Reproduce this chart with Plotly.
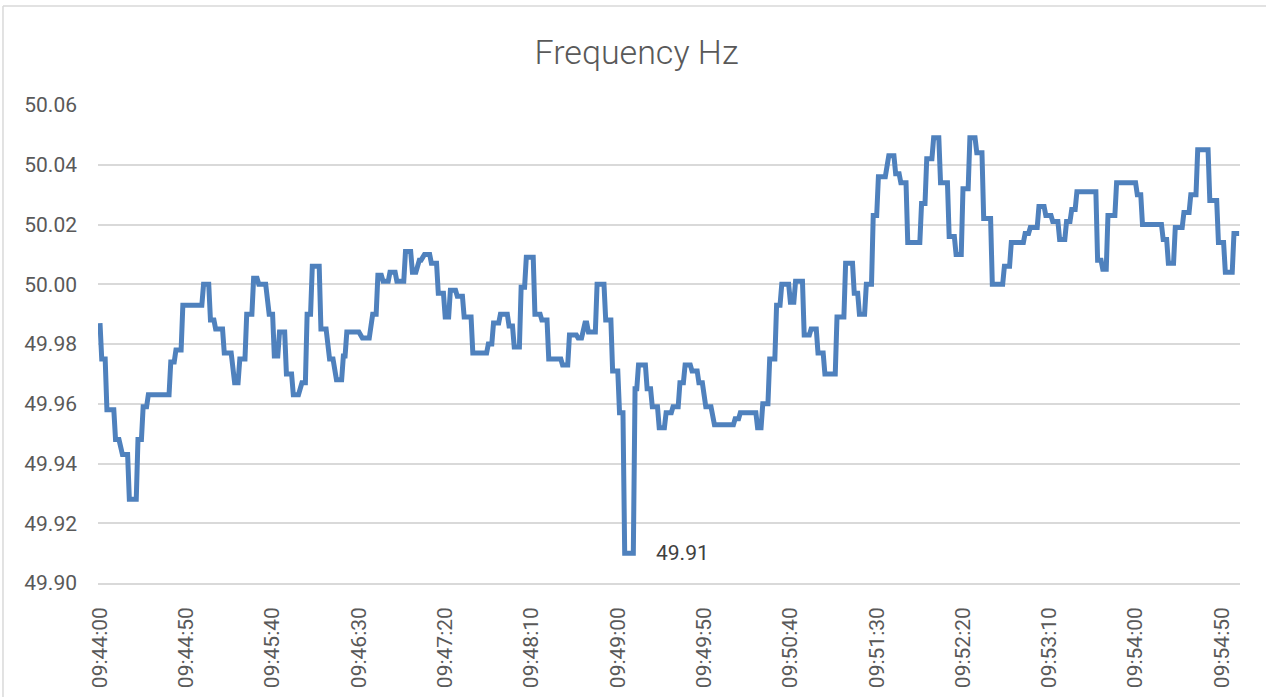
import pandas as pd
import plotly.graph_objects as go

# ---- data: plateaus of the frequency trace (seconds after 09:44:00, value in Hz)
seg_start = [0, 1, 4, 9, 13, 17, 22, 25, 28, 41, 44, 48, 60, 64, 67, 72, 78, 81, 85, 89,
             92, 98, 101, 104, 108, 112, 117, 120, 123, 128, 133, 137, 141, 143, 152, 158, 161, 164, 168, 172,
             177, 181, 185, 188, 192, 196, 200, 203, 207, 211, 216, 225, 228, 232, 237, 240, 244, 247, 252, 256,
             260, 268, 272, 277, 281, 283, 288, 293, 297, 301, 304, 310, 312, 317, 320, 324, 328, 332, 336, 339,
             343, 347, 351, 356, 368, 371, 381, 384, 388, 392, 395, 400, 403, 408, 412, 416, 420, 427, 432, 437,
             440, 444, 448, 451, 457, 461, 464, 468, 476, 479, 483, 487, 492, 496, 500, 504, 508, 512, 517, 524,
             528, 536, 539, 544, 548, 552, 556, 560, 563, 566, 578, 581, 584, 589, 601, 604, 616, 619, 623, 628,
             632, 636, 643, 648, 652, 657]
seg_end = [0, 3, 8, 11, 16, 21, 24, 27, 40, 43, 47, 59, 63, 66, 71, 76, 80, 84, 88, 91,
           96, 100, 103, 107, 111, 115, 119, 122, 127, 131, 135, 140, 142, 150, 156, 160, 163, 167, 171, 176,
           180, 183, 186, 191, 195, 199, 202, 206, 210, 215, 224, 227, 231, 236, 239, 243, 246, 251, 255, 259,
           267, 271, 276, 279, 282, 287, 292, 296, 300, 303, 309, 311, 316, 319, 323, 327, 331, 335, 338, 342,
           346, 349, 354, 367, 370, 380, 383, 387, 391, 394, 399, 402, 407, 411, 415, 419, 426, 431, 436, 439,
           443, 447, 450, 455, 460, 463, 467, 475, 478, 482, 486, 491, 495, 499, 503, 507, 511, 516, 523, 527,
           535, 538, 543, 547, 551, 555, 559, 562, 565, 577, 580, 583, 588, 600, 603, 615, 618, 622, 627, 631,
           635, 642, 647, 651, 656, 660]
seg_hz = [49.987, 49.975, 49.958, 49.948, 49.943, 49.928, 49.948, 49.959, 49.963, 49.974,
          49.978, 49.993, 50.000, 49.988, 49.985, 49.977, 49.967, 49.975, 49.990, 50.002,
          50.000, 49.990, 49.976, 49.984, 49.970, 49.963, 49.967, 49.990, 50.006, 49.985,
          49.975, 49.968, 49.976, 49.984, 49.982, 49.990, 50.003, 50.001, 50.004, 50.001,
          50.011, 50.004, 50.008, 50.010, 50.007, 49.997, 49.989, 49.998, 49.996, 49.989,
          49.977, 49.980, 49.987, 49.990, 49.986, 49.979, 49.999, 50.009, 49.990, 49.988,
          49.975, 49.973, 49.983, 49.982, 49.987, 49.984, 50.000, 49.988, 49.971, 49.957,
          49.910, 49.965, 49.973, 49.965, 49.959, 49.952, 49.957, 49.959, 49.967, 49.973,
          49.971, 49.967, 49.959, 49.953, 49.955, 49.957, 49.952, 49.960, 49.975, 49.993,
          50.000, 49.994, 50.001, 49.983, 49.985, 49.977, 49.970, 49.989, 50.007, 49.997,
          49.990, 50.000, 50.023, 50.036, 50.043, 50.037, 50.034, 50.014, 50.027, 50.042,
          50.049, 50.034, 50.016, 50.010, 50.032, 50.049, 50.044, 50.022, 50.000, 50.006,
          50.014, 50.017, 50.019, 50.026, 50.023, 50.021, 50.015, 50.021, 50.025, 50.031,
          50.008, 50.005, 50.023, 50.034, 50.030, 50.020, 50.015, 50.007, 50.019, 50.024,
          50.030, 50.045, 50.028, 50.014, 50.004, 50.017]

start_time = "2024-01-01 09:44:00"
title_text = "Frequency Hz"
label_text = "49.91"

# ---- build polyline vertices from the plateaus
t0 = pd.Timestamp(start_time)
xs, ys = [], []
for s, e, v in zip(seg_start, seg_end, seg_hz):
    xs.append(t0 + pd.Timedelta(seconds=s))
    ys.append(v)
    if e != s:
        xs.append(t0 + pd.Timedelta(seconds=e))
        ys.append(v)

i_min = seg_hz.index(min(seg_hz))
x_min = t0 + pd.Timedelta(seconds=seg_end[i_min])

FONT = "Roboto"
fig = go.Figure()
fig.add_trace(go.Scatter(
    x=xs, y=ys, mode="lines",
    line=dict(color="#4F81BD", width=5),
    hoverinfo="skip", showlegend=False,
))

fig.add_annotation(
    x=x_min, y=seg_hz[i_min], text=label_text, showarrow=False,
    xanchor="left", yanchor="middle", xshift=21,
    font=dict(family=FONT, size=21, color="#404040"),
)

# chart-area border (top and left edges visible in reference)
fig.add_shape(type="line", xref="paper", yref="paper",
              x0=-0.0832, x1=1.05, y0=1.2071, y1=1.2071,
              line=dict(color="#d9d9d9", width=1.5))
fig.add_shape(type="line", xref="paper", yref="paper",
              x0=-0.0832, x1=-0.0832, y0=1.2071, y1=-0.3,
              line=dict(color="#d9d9d9", width=1.5))

fig.update_layout(
    width=1266, height=697,
    margin=dict(l=98, r=26, t=105, b=114, autoexpand=False),
    paper_bgcolor="white", plot_bgcolor="white",
    title=dict(text=title_text, x=636.5 / 1266, xref="container", xanchor="center",
               y=1 - 52 / 697, yref="container", yanchor="middle",
               font=dict(family=FONT, size=34, color="#595959", weight=300)),
    font=dict(family=FONT, color="#595959"),
)

fig.update_xaxes(
    type="date", automargin=False,
    range=[t0 - pd.Timedelta(seconds=1.16), t0 + pd.Timedelta(seconds=660.5)],
    tick0=t0, dtick=50000, tickformat="%H:%M:%S", tickangle=-90,
    showgrid=False, zeroline=False,
    showline=True, linecolor="#d9d9d9", linewidth=1.5,
    ticks="", ticklabelstandoff=14,
    tickfont=dict(family=FONT, size=21, color="#595959"),
)
fig.update_yaxes(
    automargin=False,
    range=[49.90, 50.06], dtick=0.02, tick0=49.90, tickformat=".2f",
    showgrid=True, gridcolor="#d9d9d9", gridwidth=1.5,
    zeroline=False, showline=False, ticks="", ticklabelstandoff=20,
    tickfont=dict(family=FONT, size=21, color="#595959"),
)

fig.write_html("out.html", config={"displayModeBar": False},
               post_script="document.body.style.margin='0';")
